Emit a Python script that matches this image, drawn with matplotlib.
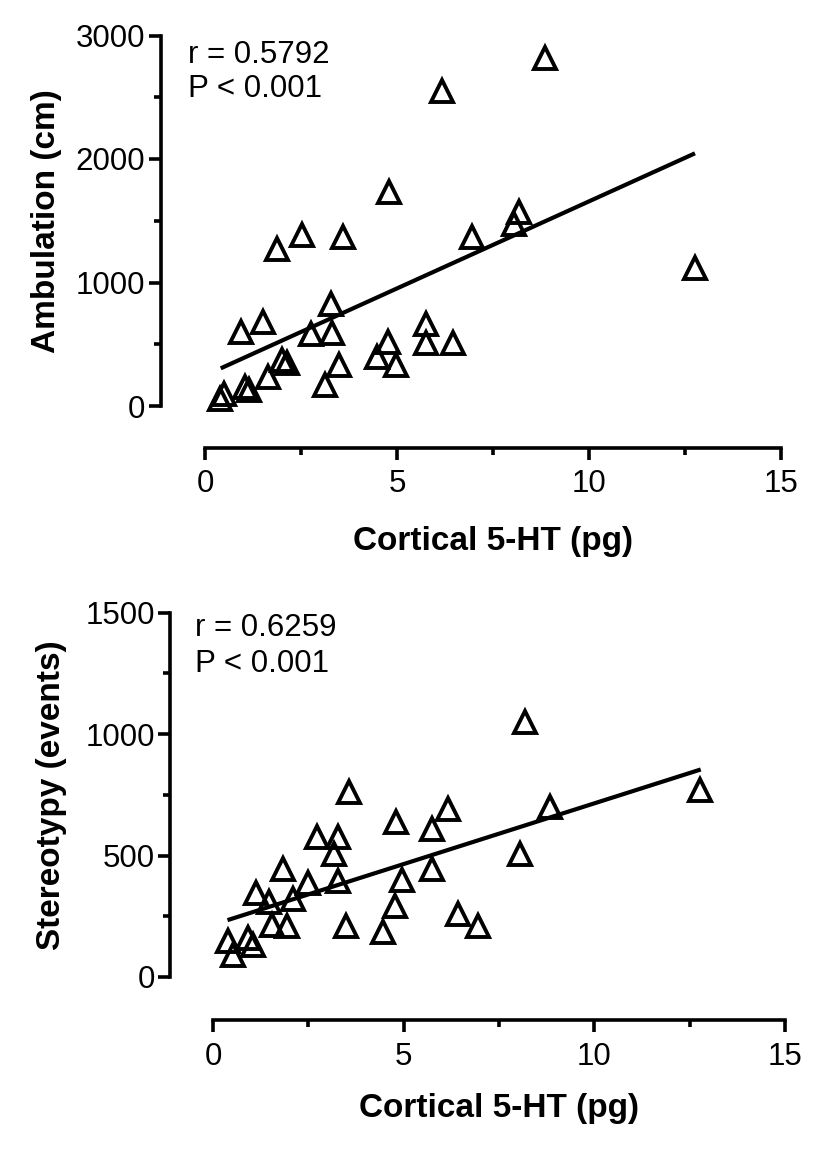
import matplotlib
matplotlib.use("Agg")
import matplotlib.pyplot as plt
from matplotlib.ticker import MultipleLocator

plt.rcParams['font.family'] = ['Liberation Sans', 'DejaVu Sans']

# ---------------- data ----------------
amb_x = [8.85, 6.16, 4.79, 2.52, 3.59, 1.87, 6.96, 8.19, 8.05, 12.76,
         3.28, 0.93, 1.50, 2.75, 3.30, 5.75, 5.75, 6.45, 4.77, 4.49,
         4.97, 3.50, 3.13, 2.00, 2.13, 1.65, 1.05, 1.15, 0.50, 0.40]
amb_y = [2815, 2550, 1735, 1385, 1371, 1273, 1368, 1567, 1470, 1115,
         828, 599, 680, 583, 591, 664, 514, 514, 521, 393,
         332, 328, 170, 370, 350, 237, 150, 130, 100, 60]
amb_fit_x = [0.41, 12.76]
amb_fit_y = [305, 2046]
amb_stats = ["r = 0.5792", "P < 0.001"]

ster_x = [8.18, 8.84, 12.77, 8.05, 3.57, 4.79, 6.15, 5.75, 5.74, 4.96,
          4.76, 4.46, 6.43, 6.96, 3.48, 3.27, 3.16, 3.29, 2.74, 2.48,
          1.84, 2.09, 1.48, 1.13, 1.56, 1.93, 0.40, 0.93, 1.04, 0.53]
ster_y = [1051, 698, 768, 506, 761, 636, 691, 607, 444, 400,
          292, 186, 259, 208, 210, 396, 506, 575, 575, 388,
          444, 323, 309, 347, 215, 209, 148, 162, 131, 90]
ster_fit_x = [0.38, 12.79]
ster_fit_y = [234, 854]
ster_stats = ["r = 0.6259", "P < 0.001"]

x_label = "Cortical 5-HT (pg)"
amb_ylabel = "Ambulation (cm)"
ster_ylabel = "Stereotypy (events)"
x_ticks = [0, 5, 10, 15]
amb_ticks = [0, 1000, 2000, 3000]
ster_ticks = [0, 500, 1000, 1500]

# ---------------- figure ----------------
W, H = 825, 1149
fig = plt.figure(figsize=(W / 100, H / 100), dpi=100)


def px_axes(x0, x1, y_bottom, y_top):
    return [x0 / W, 1 - y_bottom / H, (x1 - x0) / W, (y_bottom - y_top) / H]


def style(ax, yticks, ymax, yminor, left_off, bottom_off, ylabel, ylab_x, xlab_y):
    ax.set_xlim(0, 15)
    ax.set_ylim(0, ymax)
    ax.set_xticks(x_ticks)
    ax.set_yticks(yticks)
    ax.xaxis.set_minor_locator(MultipleLocator(2.5))
    ax.yaxis.set_minor_locator(MultipleLocator(yminor))
    for s in ['top', 'right']:
        ax.spines[s].set_visible(False)
    ax.spines['left'].set_position(('outward', left_off))
    ax.spines['bottom'].set_position(('outward', bottom_off))
    for s in ['left', 'bottom']:
        ax.spines[s].set_linewidth(2.6)
        ax.spines[s].set_capstyle('projecting')
    ax.tick_params(which='major', length=8.5, width=2.6, labelsize=22.5, pad=2.5)
    ax.tick_params(which='minor', length=5, width=2.6)
    ax.tick_params(axis='x', which='major', pad=7)
    ax.set_xlabel(x_label, fontsize=24, fontweight='bold', va='center')
    ax.xaxis.set_label_coords(0.5, xlab_y)
    ax.set_ylabel(ylabel, fontsize=24, fontweight='bold', va='center')
    ax.yaxis.set_label_coords(ylab_x, 0.5)


def draw(ax, xs, ys, fx, fy):
    ax.plot(fx, fy, color='black', lw=3.0, solid_capstyle='butt', zorder=2)
    ax.plot(xs, ys, linestyle='none', marker='^', ms=16, mfc='none',
            mec='black', mew=2.8, clip_on=False, zorder=3)


# top panel
ax1 = fig.add_axes(px_axes(205, 781, 406, 35.5))
draw(ax1, amb_x, amb_y, amb_fit_x, amb_fit_y)
style(ax1, amb_ticks, 3000, 500, 32, 30, amb_ylabel, -0.276, -0.365)
fig.text(188 / W, 1 - 63.3 / H, amb_stats[0], fontsize=22.5, va='baseline', ha='left')
fig.text(188 / W, 1 - 97 / H, amb_stats[1], fontsize=22.5, va='baseline', ha='left')

# bottom panel
ax2 = fig.add_axes(px_axes(213, 785, 977, 612.5))
draw(ax2, ster_x, ster_y, ster_fit_x, ster_fit_y)
style(ax2, ster_ticks, 1500, 250, 31, 31, ster_ylabel, -0.2815, -0.362)
fig.text(195 / W, 1 - 636.5 / H, ster_stats[0], fontsize=22.5, va='baseline', ha='left')
fig.text(195 / W, 1 - 672 / H, ster_stats[1], fontsize=22.5, va='baseline', ha='left')

fig.savefig("out.png", dpi=100)
